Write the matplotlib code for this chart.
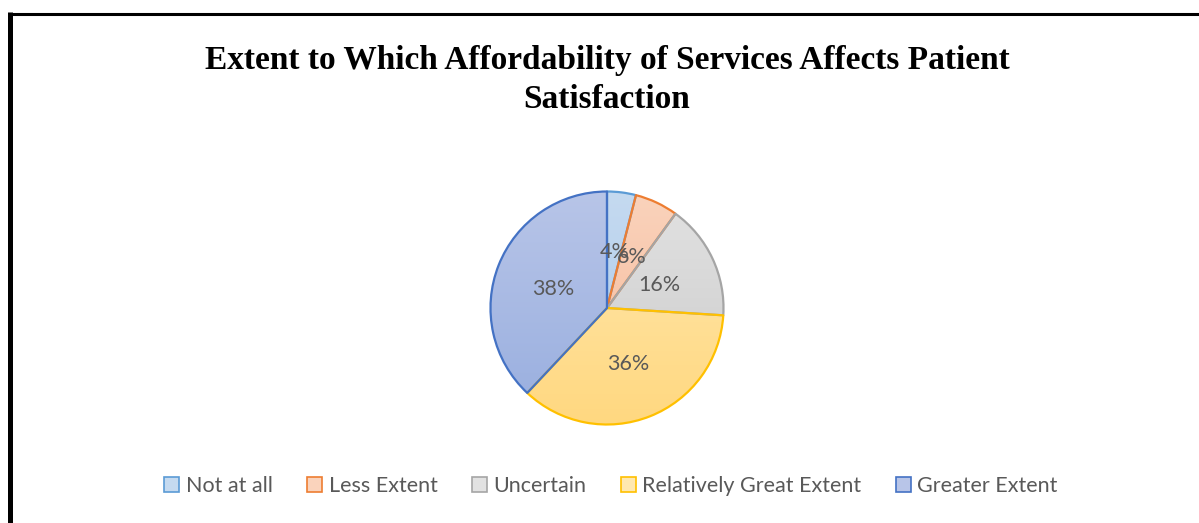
import numpy as np
import matplotlib
matplotlib.use("Agg")
import matplotlib.pyplot as plt
from matplotlib.patches import Patch
from matplotlib.lines import Line2D
from matplotlib.colors import LinearSegmentedColormap

categories = ["Not at all", "Less Extent", "Uncertain", "Relatively Great Extent", "Greater Extent"]
values = [4, 6, 16, 36, 38]
labels = ["4%", "6%", "16%", "36%", "38%"]
title = "Extent to Which Affordability of Services Affects Patient\nSatisfaction"

edge_colors = ["#5B9BD5", "#ED7D31", "#A5A5A5", "#FFC000", "#4472C4"]
top_colors = ["#C5DAF0", "#FAD3BC", "#E2E2E2", "#FFE8B0", "#B8C5E8"]
bot_colors = ["#A9C8EA", "#F5B797", "#CACACA", "#FFD880", "#98AEDF"]

W, H = 1199, 523
fig = plt.figure(figsize=(W / 100, H / 100), dpi=100)
fig.patch.set_facecolor("white")

cx, cy, r = 607, 308, 116.5
ax = fig.add_axes([(cx - r) / W, (H - cy - r) / H, 2 * r / W, 2 * r / H])
wedges, texts = ax.pie(values, labels=labels, startangle=90, counterclock=False,
                       radius=1, labeldistance=0.5,
                       wedgeprops=dict(linewidth=1.6, joinstyle="round"),
                       textprops=dict(color="#595959", fontsize=15.5, family="Lato"))
grad = np.linspace(0, 1, 256).reshape(-1, 1)
for w, ec, tc, bc in zip(wedges, edge_colors, top_colors, bot_colors):
    w.set_facecolor("none")
    w.set_edgecolor(ec)
    w.set_zorder(3)
    cmap = LinearSegmentedColormap.from_list("g", [tc, bc])
    im = ax.imshow(grad, cmap=cmap, extent=[-1, 1, -1, 1], origin="upper",
                   aspect="auto", zorder=2, interpolation="bilinear")
    im.set_clip_path(w)
for t in texts:
    t.set_ha("center")
    t.set_va("center_baseline")
    t.set_zorder(5)
ax.set_xlim(-1, 1)
ax.set_ylim(-1, 1)
ax.set_aspect("equal")
ax.axis("off")
for w in wedges:
    w.set_clip_on(False)

fig.text(607 / W, 1 - 80 / H, title, ha="center", va="center",
         fontsize=24, fontweight="bold", family="Liberation Serif",
         linespacing=1.3)

handles = [Patch(facecolor=tc, edgecolor=ec, linewidth=1.2) for tc, ec in zip(top_colors, edge_colors)]
leg = fig.legend(handles, categories, loc="center", bbox_to_anchor=(611 / W, 1 - 486 / H),
                 ncol=5, frameon=False, handlelength=0.7, handleheight=0.7,
                 handletextpad=0.3, columnspacing=1.6,
                 prop=dict(family="Lato", size=15.5))
for t in leg.get_texts():
    t.set_color("#595959")

fig.add_artist(Line2D([8 / W, 1], [1 - 13.5 / H, 1 - 13.5 / H], color="black", lw=2.2,
                      transform=fig.transFigure, solid_capstyle="butt"))
fig.add_artist(Line2D([10.5 / W, 10.5 / W], [1 - 12 / H, 0], color="black", lw=3.6,
                      transform=fig.transFigure, solid_capstyle="butt"))

fig.savefig("out.png", dpi=100, facecolor="white")
